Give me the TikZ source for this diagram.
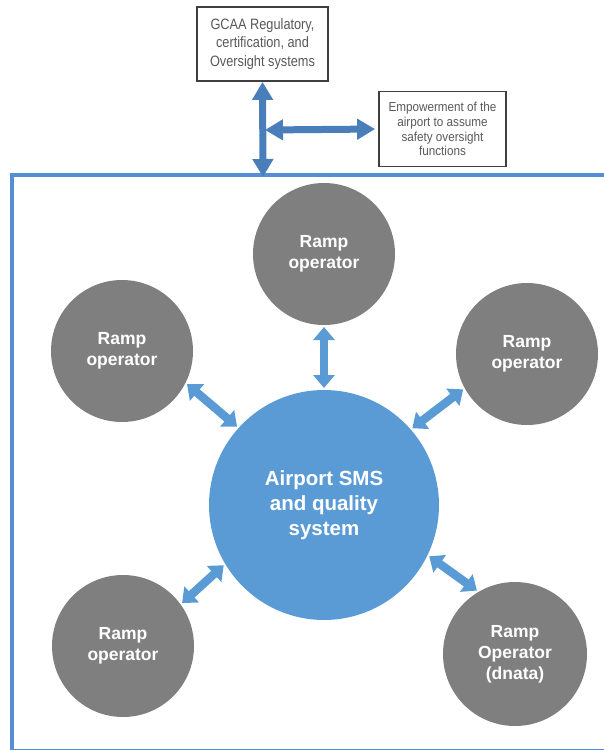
\documentclass[tikz,border=0pt]{standalone}
\usepackage{fontspec}
\setmainfont{Liberation Sans}
\newfontfamily\narrowfont{Liberation Sans}[FakeStretch=0.85]
\newfontfamily\narrowerfont{Liberation Sans}[FakeStretch=0.9]
\usetikzlibrary{arrows.meta}
\definecolor{framebl}{HTML}{558ED5}
\definecolor{topbl}{HTML}{4A7EBB}
\definecolor{midbl}{HTML}{5B9BD5}
\definecolor{graycirc}{HTML}{7F7F7F}
\definecolor{boxline}{HTML}{3F3F3F}
\definecolor{boxtext}{HTML}{595959}
\tikzset{
  infobox/.style={draw=boxline, line width=1.8pt, fill=white, align=center,
    text=boxtext, inner sep=0pt},
  graynode/.style={circle, fill=graycirc, minimum size=142pt, inner sep=0pt,
    outer sep=2pt, text=white, align=center,
    font=\fontsize{17.5}{21}\selectfont\bfseries},
  hubnode/.style={circle, fill=midbl, minimum size=230pt, inner sep=0pt,
    outer sep=2pt, text=white, align=center,
    font=\fontsize{20.5}{25}\selectfont\bfseries},
  toparrow/.style={draw=topbl, line width=7pt,
    {Triangle[width=20pt,length=18pt]}-{Triangle[width=20pt,length=18pt]}},
  midarrow/.style={draw=midbl, line width=8.5pt,
    {Triangle[width=21pt,length=13pt]}-{Triangle[width=21pt,length=13pt]}}
}
\begin{document}
\begin{tikzpicture}[x=1pt,y=-1pt]
\useasboundingbox (0,0) rectangle (603,750);
% frame
\draw[framebl, line width=4pt] (11.5,175) rectangle (620,750.5);
% top boxes
\node[infobox, minimum width=131pt, minimum height=74pt,
  font=\narrowfont\fontsize{15}{18.5}\selectfont] (gcaa) at (262.5,44)
  {GCAA Regulatory,\\certification, and\\Oversight systems};
\node[infobox, minimum width=127pt, minimum height=75pt,
  font=\narrowerfont\fontsize{13}{14.7}\selectfont] (emp) at (442.5,129)
  {Empowerment of the\\airport to assume\\safety oversight\\functions};
\coordinate (ftop) at (263,177);
\coordinate (hj) at (265,130);
\draw[toparrow] (gcaa.south) -- (ftop);
\draw[toparrow, shorten >=3pt] (hj) -- (emp.west);
% circles
\node[hubnode] (c) at (324,505) {Airport SMS\\and quality\\system};
\node[graynode] (top) at (324,254) {Ramp\\operator};
\node[graynode] (ul) at (122,351) {Ramp\\operator};
\node[graynode] (ur) at (527,354) {Ramp\\operator};
\node[graynode] (ll) at (123,646) {Ramp\\operator};
\node[graynode, minimum size=144pt] (lr) at (515,654) {Ramp\\Operator\\(dnata)};
% connectors
\draw[midarrow] (top.south) -- (c.north);
\draw[midarrow] (ul.-27) -- (c.138);
\draw[midarrow] (ur.209) -- (c.41);
\draw[midarrow] (ll.36) -- (c.211);
\draw[midarrow] (c.-26) -- (lr.121);
\end{tikzpicture}
\end{document}
